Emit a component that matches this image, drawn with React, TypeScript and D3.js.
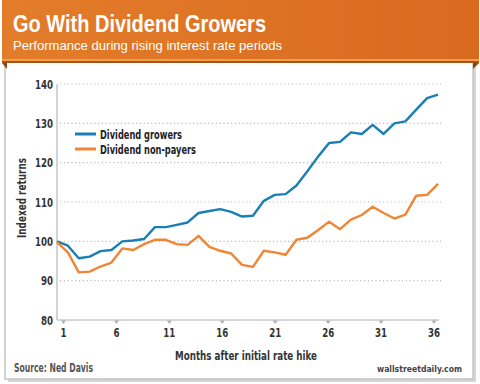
import React from 'react';
import * as d3 from 'd3';

// monthly index values (month 1..36)
const months = d3.range(1, 37);
const growers = [
  100, 98.9, 95.7, 96.1, 97.5, 97.8, 100, 100.2, 100.6, 103.6,
  103.6, 104.2, 104.8, 107.2, 107.7, 108.2, 107.5, 106.3, 106.5, 110.3,
  111.8, 112.0, 114.2, 117.8, 121.6, 125.0, 125.3, 127.7, 127.3, 129.6,
  127.3, 130.0, 130.5, 133.5, 136.4, 137.3,
];
const nonPayers = [
  99.8, 97.2, 92.1, 92.3, 93.6, 94.6, 98.2, 97.8, 99.3, 100.4,
  100.4, 99.3, 99.1, 101.4, 98.6, 97.6, 96.9, 94.0, 93.5, 97.6,
  97.2, 96.6, 100.4, 100.9, 102.9, 105.0, 103.1, 105.5, 106.7, 108.8,
  107.2, 105.8, 106.8, 111.6, 111.8, 114.6,
];
const yTicks = [80, 90, 100, 110, 120, 130, 140];
const xTicks = [1, 6, 11, 16, 21, 26, 31, 36];
const seriesNames = ['Dividend growers', 'Dividend non-payers'];
const colors = ['#1a7fb4', '#ef8636'];

const W = 480;
const H = 384;
const cond = "'Liberation Sans Narrow', 'DejaVu Sans Condensed', 'Arial Narrow', 'Liberation Sans', sans-serif";

const App: React.FC = () => {
  const x = d3.scaleLinear().domain([1, 36]).range([57, 438]);
  // the printed axis places its ticks slightly inside the data span
  const xAxis = d3.scaleLinear().domain([1, 36]).range([63.5, 434]);
  const y = d3.scaleLinear().domain([80, 140]).range([320, 84]);

  const line = d3.line<number>()
    .x((_, i) => x(months[i]))
    .y(d => y(d));

  return (
    <svg width={W} height={H} style={{ position: 'absolute', left: 0, top: 0 }}
      fontFamily="'Liberation Sans', Arial, sans-serif">
      <defs>
        <linearGradient id="hdr" x1="0" x2="1" y1="0" y2="0">
          <stop offset="0" stopColor="#e37d2a" />
          <stop offset="1" stopColor="#d9691f" />
        </linearGradient>
      </defs>
      <rect width={W} height={H} fill="#fff" />

      {/* card with shadow */}
      <rect x={8} y={62} width={468} height={320} fill="#d6d6d6" />
      <rect x={5} y={59} width={468} height={320} fill="#fff" stroke="#c4c4c4" strokeWidth={1.5} />

      {/* header ribbon */}
      <rect x={2} y={0} width={477} height={62} fill="url(#hdr)" />
      <rect x={2} y={59} width={477} height={2} fill="#efa14a" />
      <rect x={2} y={61} width={477} height={2} fill="#a9521b" />
      <path d="M2,63 L7,63 L7,69 Z" fill="#8a4316" />
      <path d="M479,63 L473,63 L473,69 Z" fill="#8a4316" />
      <text x={13} y={32} fill="#fff" fontSize={23} fontWeight="bold" textLength={253} lengthAdjust="spacingAndGlyphs">
        Go With Dividend Growers
      </text>
      <text x={13} y={50} fill="#fff" fontSize={13} textLength={269} lengthAdjust="spacingAndGlyphs">
        Performance during rising interest rate periods
      </text>

      {/* gridlines */}
      {yTicks.slice(1).map(t => (
        <line key={t} x1={60} x2={441} y1={y(t)} y2={y(t)} stroke="#bdbdbd"
          strokeWidth={1.2} strokeDasharray="1.2,2.6" />
      ))}

      {/* axes */}
      <line x1={57} x2={57} y1={y(140)} y2={y(80)} stroke="#c8c8c8" strokeWidth={1.6} />
      <line x1={57} x2={439} y1={y(80)} y2={y(80)} stroke="#c8c8c8" strokeWidth={1.6} />
      {yTicks.map(t => (
        <text key={t} x={53} y={y(t) + 4.5} textAnchor="end" fontFamily={cond} fontWeight="bold"
          fontSize={12.5} fill="#333" textLength={t >= 100 ? 18 : 12} lengthAdjust="spacingAndGlyphs">
          {t}
        </text>
      ))}
      {xTicks.map(t => (
        <g key={t}>
          <path d={`M${xAxis(t) - 2.5},${y(80) + 0.5} L${xAxis(t) + 2.5},${y(80) + 0.5} L${xAxis(t)},${y(80) + 4} Z`}
            fill="#b0b0b0" />
          <text x={xAxis(t)} y={337} textAnchor="middle" fontFamily={cond} fontWeight="bold"
            fontSize={12.5} fill="#333" textLength={t >= 10 ? 12 : 6} lengthAdjust="spacingAndGlyphs">
            {t}
          </text>
        </g>
      ))}
      <text x={246} y={360} textAnchor="middle" fontFamily={cond} fontWeight="bold" fontSize={12.5}
        fill="#333" textLength={142} lengthAdjust="spacingAndGlyphs">
        Months after initial rate hike
      </text>
      <text transform="translate(26,198) rotate(-90)" textAnchor="middle" fontFamily={cond}
        fontWeight="bold" fontSize={12} fill="#333" textLength={80} lengthAdjust="spacingAndGlyphs">
        Indexed returns
      </text>

      {/* series */}
      {[growers, nonPayers].map((s, i) => (
        <path key={i} d={line(s) || ''} fill="none" stroke={colors[i]} strokeWidth={2.4}
          strokeLinejoin="round" />
      ))}

      {/* legend */}
      {seriesNames.map((n, i) => (
        <g key={n} transform={`translate(75,${134 + i * 15})`}>
          <line x1={0} x2={21} y1={0} y2={0} stroke={colors[i]} strokeWidth={3} />
          <text x={25} y={4.5} fontFamily={cond} fontWeight="bold" fontSize={12.5} fill="#222"
            textLength={i === 0 ? 82 : 96} lengthAdjust="spacingAndGlyphs">
            {n}
          </text>
        </g>
      ))}

      {/* footer */}
      <text x={14} y={372} fontFamily={cond} fontWeight="bold" fontSize={11.5} fill="#555"
        textLength={79} lengthAdjust="spacingAndGlyphs">
        Source: Ned Davis
      </text>
      <text x={377} y={372} fontFamily={cond} fontWeight="bold" fontSize={9.2}
        fill="#444" textLength={85} lengthAdjust="spacingAndGlyphs">
        wallstreetdaily.com
      </text>
    </svg>
  );
};

export default App;
